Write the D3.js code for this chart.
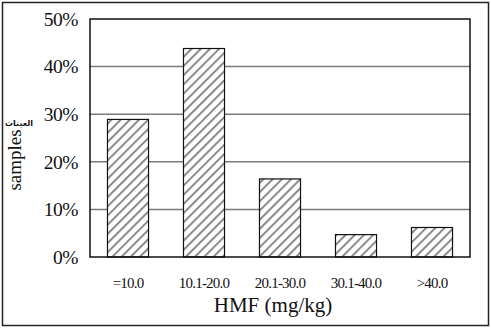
<!DOCTYPE html>
<html>
<head>
<meta charset="utf-8">
<style>
body { margin: 0; background: #fff; }
svg { display: block; }
svg text { font-family: "Liberation Serif", "Times New Roman", serif; }
</style>
</head>
<body>
<div id="app"></div>
<script src="https://d3js.org/d3.v7.min.js"></script>
<script>
const categories = ["=10.0", "10.1-20.0", "20.1-30.0", "30.1-40.0", ">40.0"];
const values = [0.289, 0.438, 0.164, 0.047, 0.062];
const yTicks = [0, 0.1, 0.2, 0.3, 0.4, 0.5];
const xTitle = "HMF (mg/kg)";
const yTitle = "samples";
const yTitleAr = "العينات";

const width = 491, height = 328;
const margin = {top: 19, right: 21, bottom: 71, left: 90};

const svg = d3.select("#app").append("svg")
    .attr("width", width)
    .attr("height", height);

// hatch
const defs = svg.append("defs");
defs.append("pattern")
    .attr("id", "hatch")
    .attr("patternUnits", "userSpaceOnUse")
    .attr("width", 6.5).attr("height", 6.5)
    .attr("patternTransform", "rotate(45)")
  .call(p => p.append("rect").attr("width", 6.5).attr("height", 6.5).attr("fill", "#fff"))
  .call(p => p.append("line")
      .attr("x1", 0).attr("y1", 0).attr("x2", 0).attr("y2", 6.5)
      .attr("stroke", "#8a8a8a").attr("stroke-width", 4));

// outer border
svg.append("rect")
    .attr("x", 2.5).attr("y", 2.5)
    .attr("width", width - 5).attr("height", height - 5)
    .attr("fill", "none").attr("stroke", "#222").attr("stroke-width", 1.5);

const x = d3.scaleBand()
    .domain(categories)
    .range([margin.left, width - margin.right])
    .paddingInner(0.46).paddingOuter(0.23);
const y = d3.scaleLinear()
    .domain([0, 0.5])
    .range([height - margin.bottom, margin.top]);

// gridlines
svg.append("g")
  .selectAll("line")
  .data(yTicks.filter(d => d > 0 && d < 0.5))
  .join("line")
    .attr("x1", margin.left).attr("x2", width - margin.right)
    .attr("y1", d => y(d)).attr("y2", d => y(d))
    .attr("stroke", "#7a7a7a").attr("stroke-width", 1.5);

// bars
svg.append("g")
  .selectAll("rect")
  .data(values)
  .join("rect")
    .attr("x", (d, i) => x(categories[i]))
    .attr("y", d => y(d))
    .attr("width", x.bandwidth())
    .attr("height", d => y(0) - y(d))
    .attr("fill", "url(#hatch)")
    .attr("stroke", "#111").attr("stroke-width", 1.2);

// plot frame
svg.append("rect")
    .attr("x", margin.left).attr("y", margin.top)
    .attr("width", width - margin.left - margin.right)
    .attr("height", y(0) - margin.top)
    .attr("fill", "none").attr("stroke", "#111").attr("stroke-width", 1.5);

// y axis labels
const yAxis = d3.axisLeft(y).tickValues(yTicks).tickFormat(d3.format(".0%")).tickSize(0).tickPadding(12);
svg.append("g")
    .attr("transform", `translate(${margin.left},0)`)
    .call(yAxis)
    .call(g => g.select(".domain").remove())
    .call(g => g.selectAll("text")
        .attr("font-size", 19.5)
        .attr("letter-spacing", -0.5)
        .attr("fill", "#111"));

// x axis labels
const xAxis = d3.axisBottom(x).tickSize(0).tickPadding(20);
svg.append("g")
    .attr("transform", `translate(0,${y(0)})`)
    .call(xAxis)
    .call(g => g.select(".domain").remove())
    .call(g => g.selectAll("text")
        .attr("font-size", 15)
        .attr("letter-spacing", -0.8)
        .attr("fill", "#111"));

// titles
svg.append("text")
    .attr("x", 273).attr("y", 312)
    .attr("text-anchor", "middle")
    .attr("font-size", 21)
    .attr("fill", "#111")
    .text(xTitle);

svg.append("text")
    .attr("transform", "translate(21,160) rotate(-90)")
    .attr("text-anchor", "middle")
    .attr("font-size", 19)
    .attr("fill", "#111")
    .text(yTitle);

svg.append("text")
    .attr("x", 19).attr("y", 126)
    .attr("text-anchor", "middle")
    .style("font-family", "'DejaVu Sans', sans-serif")
    .attr("font-size", 8)
    .attr("font-weight", "bold")
    .attr("fill", "#111")
    .text(yTitleAr);
</script>
</body>
</html>
